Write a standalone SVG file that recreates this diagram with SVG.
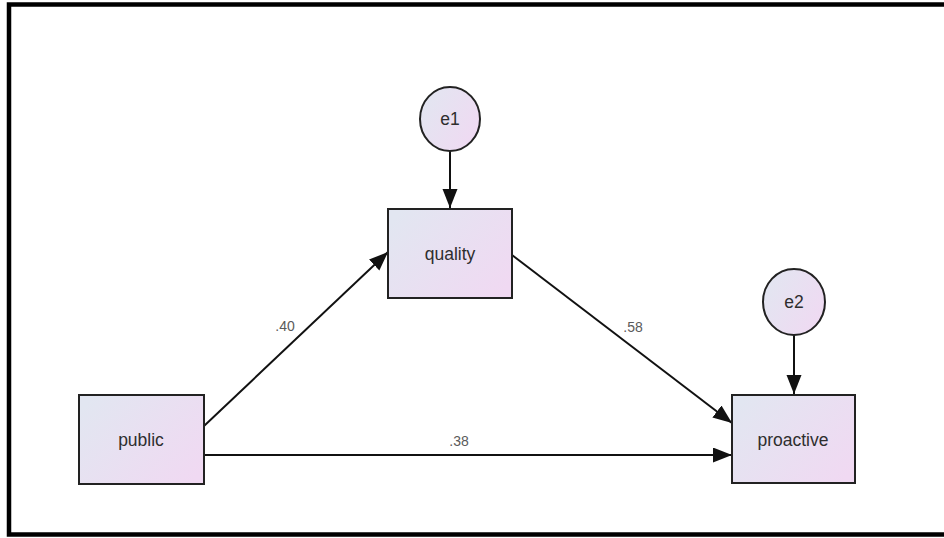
<svg xmlns="http://www.w3.org/2000/svg" width="944" height="538" viewBox="0 0 944 538">
  <style>
    .node { stroke: #222; stroke-width: 2; fill: url(#nodeFill); }
    .label { font-family: "Liberation Sans", Arial, sans-serif; font-size: 17.5px; fill: #2e2e2e; text-anchor: middle; dominant-baseline: central; }
    .coef { font-family: "Liberation Sans", Arial, sans-serif; font-size: 14px; fill: #5a5a5a; text-anchor: middle; }
    .edge { stroke: #111; stroke-width: 2; fill: none; marker-end: url(#arrow); }
  </style>
  <defs>
    <linearGradient id="nodeFill" x1="0" y1="0.2" x2="1" y2="0.8">
      <stop offset="0" stop-color="#e2e6f1"/>
      <stop offset="1" stop-color="#f0d9f2"/>
    </linearGradient>
    <marker id="arrow" markerUnits="userSpaceOnUse" markerWidth="22" markerHeight="16" refX="19" refY="7.5" orient="auto">
      <path d="M0,0 L19,7.5 L0,15 Z" fill="#111"/>
    </marker>
  </defs>

  <rect width="944" height="538" fill="#fff"/>
  <!-- frame, right side runs past the canvas -->
  <rect x="9" y="4.5" width="945" height="530" fill="none" stroke="#000" stroke-width="4.5"/>

  <g id="connectors">
    <line class="edge" x1="450" y1="151" x2="450" y2="208"/>
    <line class="edge" x1="794" y1="335" x2="794" y2="394"/>
    <line class="edge" x1="204" y1="426" x2="388" y2="252"/>
    <line class="edge" x1="512" y1="255" x2="732" y2="423"/>
    <line class="edge" x1="204" y1="455" x2="732" y2="455"/>
    <text class="coef" x="285" y="331">.40</text>
    <text class="coef" x="633" y="332">.58</text>
    <text class="coef" x="459" y="446">.38</text>
  </g>

  <g id="e1">
    <ellipse class="node" cx="450" cy="119" rx="30" ry="32"/>
    <text class="label" x="450" y="119">e1</text>
  </g>
  <g id="e2">
    <ellipse class="node" cx="794" cy="302" rx="31" ry="33"/>
    <text class="label" x="794" y="302">e2</text>
  </g>
  <g id="quality">
    <rect class="node" x="388" y="209" width="124" height="89"/>
    <text class="label" x="450" y="254">quality</text>
  </g>
  <g id="public">
    <rect class="node" x="79" y="395" width="125" height="89"/>
    <text class="label" x="141" y="440">public</text>
  </g>
  <g id="proactive">
    <rect class="node" x="732" y="395" width="123" height="88"/>
    <text class="label" x="793" y="440">proactive</text>
  </g>
</svg>
